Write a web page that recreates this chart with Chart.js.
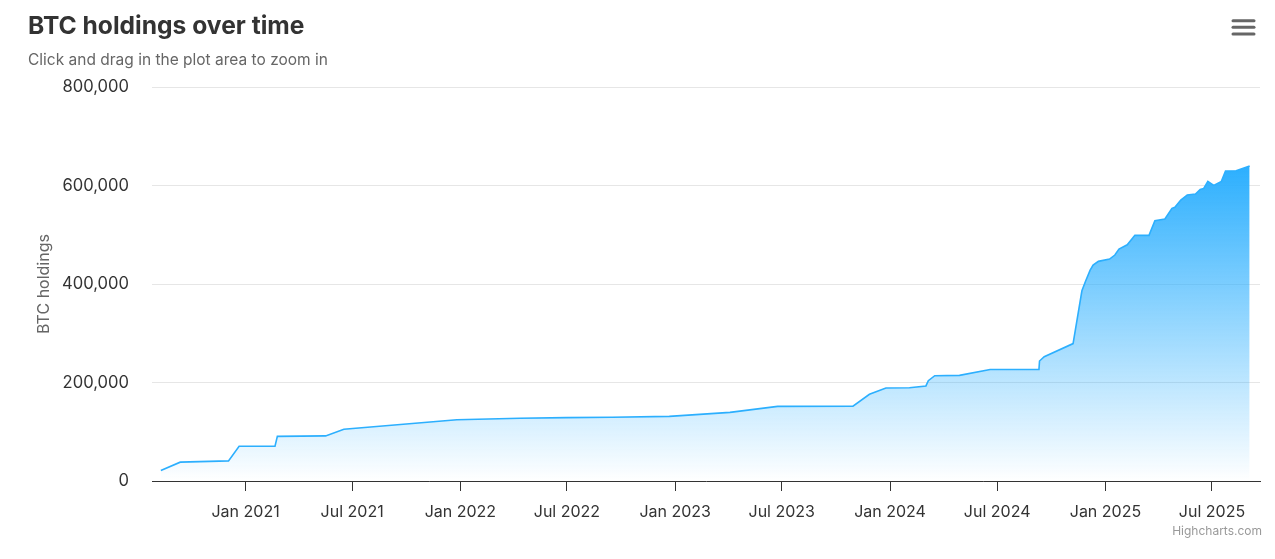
<!DOCTYPE html>
<html>
<head>
<meta charset="utf-8">
<script src="https://cdn.jsdelivr.net/npm/chart.js@4"></script>
<style>
  html, body { margin: 0; padding: 0; background: #fff; }
  #wrap { width: 1275px; height: 559px; }
</style>
</head>
<body>
<div id="wrap"><canvas id="chart" width="1275" height="559"></canvas></div>
<script>
// dates of each holdings change
const dates = [
  '2020-08-10', '2020-09-12', '2020-12-03', '2020-12-21', '2021-02-20', '2021-02-24',
  '2021-05-17', '2021-06-17', '2021-12-26', '2022-04-12', '2022-06-30', '2022-09-16',
  '2022-12-22', '2023-04-04', '2023-06-24', '2023-10-30', '2023-11-27', '2023-12-25',
  '2024-02-03', '2024-03-02', '2024-03-06', '2024-03-17', '2024-04-28', '2024-06-19',
  '2024-09-10', '2024-09-11', '2024-09-19', '2024-11-07', '2024-11-22', '2024-11-28',
  '2024-12-06', '2024-12-11', '2024-12-20', '2025-01-08', '2025-01-17', '2025-01-24',
  '2025-02-07', '2025-02-20', '2025-03-16', '2025-03-26', '2025-04-12', '2025-04-24',
  '2025-04-29', '2025-05-09', '2025-05-20', '2025-06-03', '2025-06-11', '2025-06-17',
  '2025-06-24', '2025-07-04', '2025-07-17', '2025-07-24', '2025-08-11', '2025-09-03'
];
const holdings = [
  21454, 38250, 40824, 70470, 70784, 90531,
  91579, 105085, 124391, 127300, 128600, 129300,
  131300, 139400, 151600, 151800, 176000, 188800,
  189400, 193000, 203600, 213800, 214400, 226331,
  226500, 243600, 252300, 279000, 386300, 405000,
  428000, 438500, 446000, 450700, 458800, 471000,
  479700, 498800, 498800, 528500, 531900, 553600,
  555600, 570500, 580600, 582600, 592100, 594100,
  608300, 600200, 608300, 629300, 629900, 639400
];
const xTickDates = [
  '2021-01-01', '2021-07-01', '2022-01-01', '2022-07-01', '2023-01-01',
  '2023-07-01', '2024-01-01', '2024-07-01', '2025-01-01', '2025-07-01'
];
const yTicks = [0, 200000, 400000, 600000, 800000];

const MONTHS = ['Jan', 'Feb', 'Mar', 'Apr', 'May', 'Jun', 'Jul', 'Aug', 'Sep', 'Oct', 'Nov', 'Dec'];
const BASE = Date.UTC(2021, 0, 1);
const toDay = s => {
  const p = s.split('-').map(Number);
  return (Date.UTC(p[0], p[1] - 1, p[2]) - BASE) / 86400000;
};
const dayLabel = d => {
  const dt = new Date(BASE + d * 86400000);
  return MONTHS[dt.getUTCMonth()] + ' ' + dt.getUTCFullYear();
};

const FONT = 'Inter, "Noto Sans", "Liberation Sans", sans-serif';
const BLUE = '44,175,254';

const points = dates.map((d, i) => ({ x: toDay(d), y: holdings[i] }));

const decorations = {
  id: 'decorations',
  afterDraw(chart) {
    const ctx = chart.ctx;
    const area = chart.chartArea;
    ctx.save();
    ctx.textBaseline = 'alphabetic';
    ctx.textAlign = 'left';
    ctx.fillStyle = '#333333';
    ctx.font = 'bold 24.6px ' + FONT;
    ctx.fillText('BTC holdings over time', 28, 34);
    ctx.fillStyle = '#666666';
    ctx.font = '15.5px ' + FONT;
    ctx.fillText('Click and drag in the plot area to zoom in', 28, 65);

    // y axis title
    ctx.save();
    ctx.translate(49, (area.top + area.bottom) / 2);
    ctx.rotate(-Math.PI / 2);
    ctx.textAlign = 'center';
    ctx.fillStyle = '#666666';
    ctx.font = '16px ' + FONT;
    ctx.fillText('BTC holdings', 0, 0);
    ctx.restore();

    // credits
    ctx.textAlign = 'right';
    ctx.fillStyle = '#999999';
    ctx.font = '12px ' + FONT;
    ctx.fillText('Highcharts.com', 1262, 535);

    // context menu icon
    ctx.strokeStyle = '#666666';
    ctx.lineWidth = 3;
    ctx.lineCap = 'round';
    [20.7, 27.3, 34].forEach(y => {
      ctx.beginPath();
      ctx.moveTo(1233, y);
      ctx.lineTo(1254, y);
      ctx.stroke();
    });
    ctx.restore();
  }
};

new Chart(document.getElementById('chart'), {
  type: 'line',
  data: {
    datasets: [{
      label: 'BTC holdings',
      data: points,
      borderColor: 'rgb(' + BLUE + ')',
      borderWidth: 1.6,
      pointRadius: 0,
      tension: 0,
      fill: 'origin',
      backgroundColor: (context) => {
        const chart = context.chart;
        const area = chart.chartArea;
        if (!area) return 'rgba(' + BLUE + ',0.3)';
        const top = chart.scales.y.getPixelForValue(Math.max(...holdings));
        const g = chart.ctx.createLinearGradient(0, top, 0, area.bottom);
        g.addColorStop(0, 'rgba(' + BLUE + ',1)');
        g.addColorStop(1, 'rgba(' + BLUE + ',0)');
        return g;
      }
    }]
  },
  options: {
    responsive: false,
    devicePixelRatio: 1,
    animation: false,
    layout: { padding: { left: 0, right: 15, top: 87, bottom: 0 } },
    plugins: {
      legend: { display: false },
      tooltip: { enabled: false }
    },
    scales: {
      x: {
        type: 'linear',
        min: -159,
        max: 1723.6,
        afterBuildTicks: (scale) => {
          scale.ticks = xTickDates.map(d => ({ value: toDay(d) }));
        },
        afterFit: (scale) => { scale.height = 78; },
        ticks: {
          autoSkip: false,
          maxRotation: 0,
          padding: 12,
          color: '#333333',
          font: { family: FONT, size: 16 },
          callback: (v) => dayLabel(v)
        },
        grid: {
          drawOnChartArea: false,
          drawTicks: true,
          tickLength: 10,
          color: '#333333'
        },
        border: { display: true, color: '#333333', width: 1 }
      },
      y: {
        min: 0,
        max: 800000,
        afterBuildTicks: (scale) => {
          scale.ticks = yTicks.map(v => ({ value: v }));
        },
        afterFit: (scale) => { scale.width = 152; },
        ticks: {
          padding: 23,
          color: '#333333',
          font: { family: FONT, size: 16.6 },
          callback: (v) => v.toLocaleString('en-US')
        },
        grid: {
          color: '#e6e6e6',
          drawTicks: false
        },
        border: { display: false }
      }
    }
  },
  plugins: [decorations]
});
</script>
</body>
</html>
